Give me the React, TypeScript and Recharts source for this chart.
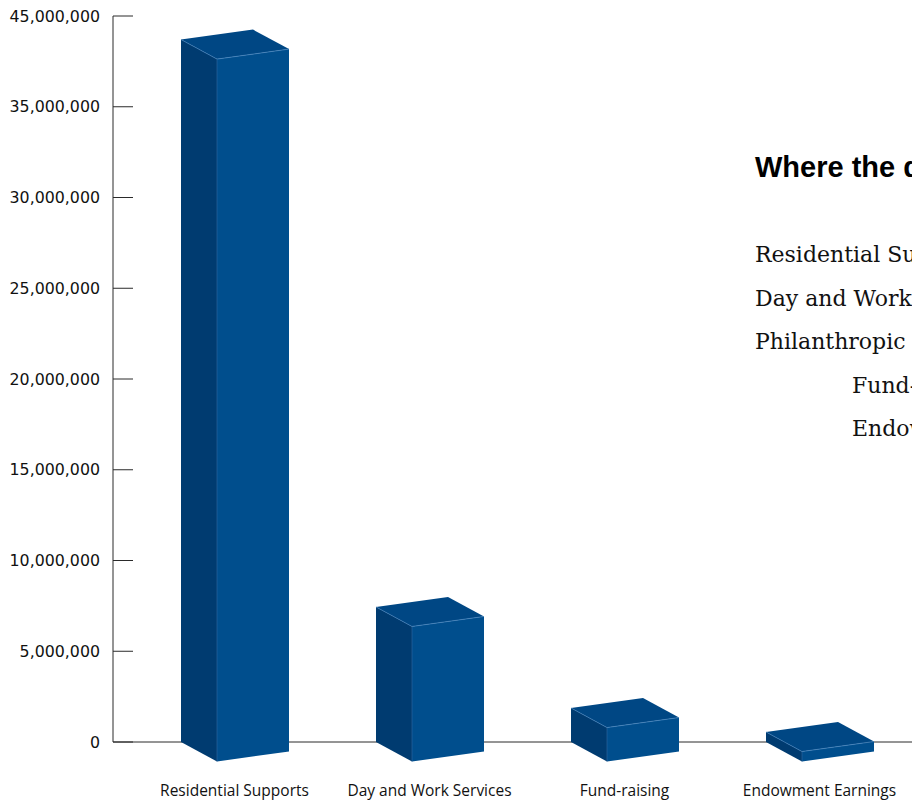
import React from 'react';
import { BarChart, Bar, XAxis, YAxis } from 'recharts';

const categories = ['Residential Supports', 'Day and Work Services', 'Fund-raising', 'Endowment Earnings'];
const revenue = [38700000, 7440000, 1870000, 550000];
const yTickValues = [0, 5000000, 10000000, 15000000, 20000000, 25000000, 30000000, 35000000, 40000000];
const yTickLabels = ['0', '5,000,000', '10,000,000', '15,000,000', '20,000,000', '25,000,000', '30,000,000', '35,000,000', '45,000,000'];
const titleText = 'Where the dollars come from';
const legendLines = ['Residential Supports', 'Day and Work Services', 'Philanthropic Support', 'Fund-raising', 'Endowment Earnings'];
const legendIndent = [false, false, false, true, true];

const data = categories.map((name, i) => ({ name, value: revenue[i] }));

const AXIS = '#2a2a2a';

const Box3D = (props: any) => {
  const { x, y, width, height } = props;
  if (x == null || y == null) return null;
  const cx = x + width / 2;
  const L = cx - 54;
  const top = y;
  const base = y + height;
  const dx = 36, dy = 19.5, wx = 72, wy = -10;
  const pts = (arr: number[][]) => arr.map((p) => p.join(',')).join(' ');
  const left = pts([[L, top], [L, base], [L + dx, base + dy], [L + dx, top + dy]]);
  const front = pts([[L + dx, top + dy], [L + dx, base + dy], [L + dx + wx, base + dy + wy], [L + dx + wx, top + dy + wy]]);
  const topF = pts([[L, top], [L + wx, top + wy], [L + dx + wx, top + dy + wy], [L + dx, top + dy]]);
  return (
    <g>
      <polygon points={left} fill="#003b70" />
      <polygon points={front} fill="#004e8d" />
      <polygon points={topF} fill="#004784" />
      <line x1={L} y1={top} x2={L + dx} y2={top + dy} stroke="#3f7db8" strokeWidth={0.7} />
      <line x1={L + dx} y1={top + dy} x2={L + dx + wx} y2={top + dy + wy} stroke="#4a88c2" strokeWidth={0.7} />
      <line x1={L + dx} y1={top + dy} x2={L + dx} y2={base + dy} stroke="#2f6aa3" strokeWidth={0.6} />
    </g>
  );
};

const YTick = (props: any) => {
  const { y, payload } = props;
  const idx = yTickValues.indexOf(payload.value);
  return (
    <g>
      <line x1={113} x2={133} y1={y} y2={y} stroke={AXIS} strokeWidth={1} />
      <text x={100} y={y} dy="0.36em" textAnchor="end" fontFamily="DejaVu Sans" fontSize={15.8} fill="#111">
        {yTickLabels[idx]}
      </text>
    </g>
  );
};

const XTick = (props: any) => {
  const { x, payload } = props;
  return (
    <text x={x} y={796} textAnchor="middle" fontFamily="Open Sans" fontSize={15.5} fill="#111">
      {payload.value}
    </text>
  );
};

export default function App() {
  return (
    <div style={{ position: 'fixed', left: 0, top: 0, width: 912, height: 802, overflow: 'hidden', background: '#fff' }}>
      <BarChart width={960} height={802} data={data} margin={{ top: 16, right: 0, bottom: 0, left: 0 }}>
        <XAxis
          dataKey="name"
          tick={<XTick />}
          tickLine={false}
          tickSize={0}
          tickMargin={0}
          interval={0}
          height={60}
          padding={{ left: 24, right: 43 }}
          axisLine={{ stroke: AXIS, strokeWidth: 1 }}
          zIndex={0}
        />
        <YAxis
          domain={[0, 40000000]}
          ticks={yTickValues}
          tick={<YTick />}
          tickLine={false}
          tickSize={0}
          tickMargin={0}
          interval={0}
          width={113}
          axisLine={{ stroke: AXIS, strokeWidth: 1 }}
          zIndex={0}
        />
        <Bar dataKey="value" shape={<Box3D />} barSize={108} isAnimationActive={false} zIndex={600} />
      </BarChart>
      <svg width={912} height={802} style={{ position: 'absolute', left: 0, top: 0, pointerEvents: 'none' }}>
        <text x={755} y={177} fontFamily="Liberation Sans" fontWeight="bold" fontSize={29} fill="#000">
          {titleText}
        </text>
        {legendLines.map((t, i) => (
          <text key={t} x={legendIndent[i] ? 852 : 755} y={262 + 43.5 * i} fontFamily="DejaVu Serif" fontSize={22} fill="#111">
            {t}
          </text>
        ))}
      </svg>
    </div>
  );
}
